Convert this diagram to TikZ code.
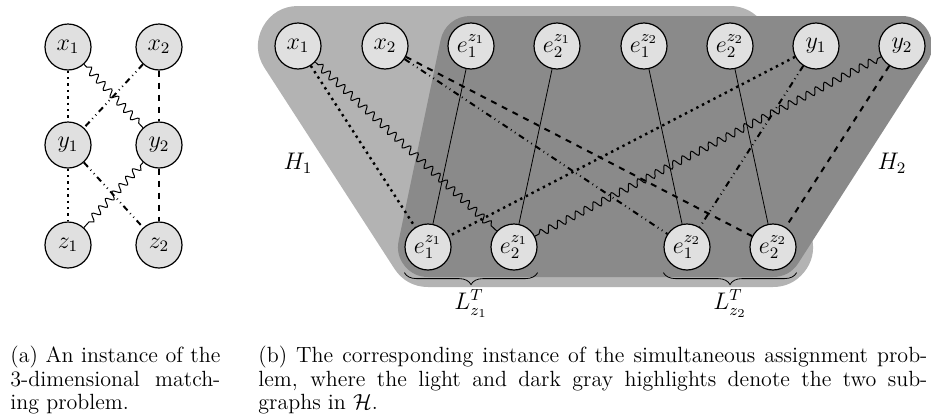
\documentclass[tikz,border=0pt]{standalone}
\usetikzlibrary{decorations.pathmorphing,decorations.pathreplacing}
\definecolor{hlight}{HTML}{B3B3B3}
\definecolor{hdark}{HTML}{8A8A8A}
\definecolor{vfill}{HTML}{E0E0E0}

\begin{document}
\begin{tikzpicture}[x=0.5pt,y=-0.5pt,
  vertex/.style={circle, draw, semithick, fill=vfill, minimum size=23pt, inner sep=0pt,
    font=\fontsize{12}{14}\selectfont},
  dotedge/.style={dotted, line width=1.2pt},
  dashedge/.style={dashed, line width=1pt},
  dddedge/.style={dash dot dot, line width=1pt},
  waveedge/.style={decorate, line width=0.5pt,
    decoration={snake, amplitude=1.8pt, segment length=5pt, pre length=2pt, post length=2pt}},
  hull/.style={line join=round},
  brace/.style={decorate, decoration={brace, amplitude=6pt}},
  mlabel/.style={font=\fontsize{12}{14}\selectfont},
  capt/.style={anchor=north west, inner sep=0pt, align=justify,
    font=\fontsize{11}{11.6}\selectfont}
]
\useasboundingbox (0,0) rectangle (931,418);

% (a) the 3-dimensional matching instance
\node[vertex] (x1) at (68,47) {$x_1$};
\node[vertex] (x2) at (159,47) {$x_2$};
\node[vertex] (y1) at (68,145) {$y_1$};
\node[vertex] (y2) at (159,145) {$y_2$};
\node[vertex] (z1) at (68,245) {$z_1$};
\node[vertex] (z2) at (159,245) {$z_2$};

\draw[dotedge] (x1) -- (y1) -- (z1);
\draw[dashedge] (x2) -- (y2) -- (z2);
\draw[waveedge] (x1) -- (y2);
\draw[waveedge] (y2) -- (z1);
\draw[dddedge] (x2) -- (y1);
\draw[dddedge] (y1) -- (z2);

% (b) highlights H_1 (light) and H_2 (dark)
\filldraw[hull, hlight, line width=40pt]
  (298,46) -- (730,46) -- (773,247) -- (428,247) -- cycle;
\filldraw[hull, hdark, line width=30pt]
  (470,46) -- (902,46) -- (773,247) -- (428,247) -- cycle;

% top row
\node[vertex] (tx1) at (298,46) {$x_1$};
\node[vertex] (tx2) at (385,46) {$x_2$};
\node[vertex] (te11) at (471,46) {$e_1^{z_1}$};
\node[vertex] (te12) at (557,46) {$e_2^{z_1}$};
\node[vertex] (te21) at (644,46) {$e_1^{z_2}$};
\node[vertex] (te22) at (730,46) {$e_2^{z_2}$};
\node[vertex] (ty1) at (816,46) {$y_1$};
\node[vertex] (ty2) at (902,46) {$y_2$};

% bottom row
\node[vertex] (be11) at (428,247) {$e_1^{z_1}$};
\node[vertex] (be12) at (514,247) {$e_2^{z_1}$};
\node[vertex] (be21) at (687,247) {$e_1^{z_2}$};
\node[vertex] (be22) at (773,247) {$e_2^{z_2}$};

\draw (te11) -- (be11);
\draw (te12) -- (be12);
\draw (te21) -- (be21);
\draw (te22) -- (be22);

\draw[dotedge] (tx1) -- (be11);
\draw[waveedge] (tx1) -- (be12);
\draw[dddedge] (tx2) -- (be21);
\draw[dashedge] (tx2) -- (be22);
\draw[dotedge] (ty1) -- (be11);
\draw[dddedge] (ty1) -- (be21);
\draw[waveedge] (ty2) -- (be12);
\draw[dashedge] (ty2) -- (be22);

\node[mlabel] (h1) at (298,163) {$H_1$};
\node[mlabel] (h2) at (892,163) {$H_2$};

% the two layers L^T
\draw[brace] ([yshift=-1pt]be12.south -| be12.east) -- ([yshift=-1pt]be11.south -| be11.west)
  node[midway, below=5pt, mlabel] (l1) {$L_{z_1}^T$};
\draw[brace] ([yshift=-1pt]be22.south -| be22.east) -- ([yshift=-1pt]be21.south -| be21.west)
  node[midway, below=5pt, mlabel] (l2) {$L_{z_2}^T$};

% captions
\node[capt, text width=105pt] (capa) at (10,346)
  {(a) An instance of the\linebreak 3-dimensional match-\linebreak ing problem.};
\node[capt, text width=334.5pt] (capb) at (258,346)
  {(b) The corresponding instance of the simultaneous assignment prob-\linebreak lem,
   where the light and dark gray highlights denote the two sub-\linebreak graphs
   in $\mathcal{H}$.};
\end{tikzpicture}
\end{document}
